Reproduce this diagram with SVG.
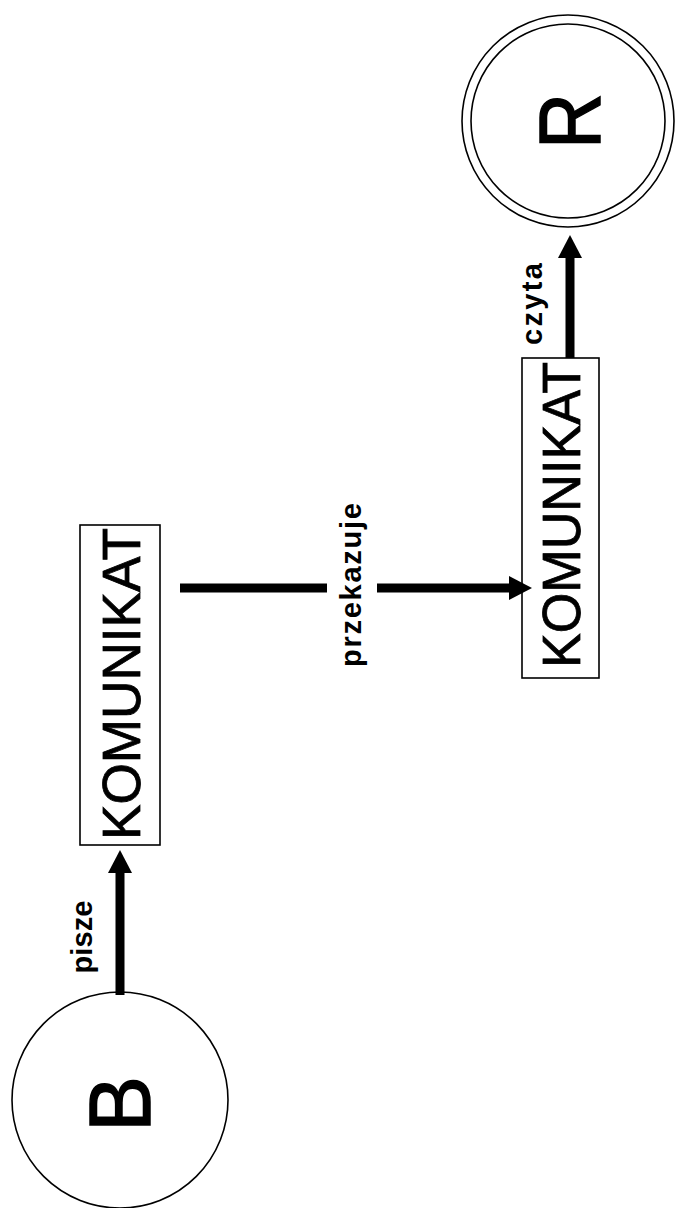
<svg xmlns="http://www.w3.org/2000/svg" width="676" height="1208" viewBox="0 0 676 1208">
<style>
.bg{fill:#fff}
.circ{fill:none;stroke:#000;stroke-width:1.6}
.box{fill:none;stroke:#000;stroke-width:1.6}
.big{font-family:"Liberation Sans",Arial,sans-serif;fill:#000}
.lbl{font-family:"Liberation Sans",Arial,sans-serif;font-weight:bold;font-size:29px;fill:#000}
.conn{stroke:#000;stroke-width:9;fill:none}
</style>
<defs>
<marker id="ah" markerUnits="userSpaceOnUse" markerWidth="23" markerHeight="24" refX="0" refY="12" orient="auto">
<path d="M0,0 L23,12 L0,24 z" fill="#000"/>
</marker>
</defs>
<rect class="bg" x="0" y="0" width="676" height="1208"/>
<g id="node-B">
<circle class="circ" cx="120" cy="1100" r="108"/>
<text class="big" font-size="88" text-anchor="middle" textLength="56" lengthAdjust="spacingAndGlyphs" stroke="#000" stroke-width="1.5" transform="translate(150,1104) rotate(-90)">B</text>
</g>
<g id="node-komunikat1">
<rect class="box" x="80" y="525" width="80" height="320"/>
<text class="big" font-size="53" text-anchor="middle" textLength="312" lengthAdjust="spacingAndGlyphs" stroke="#000" stroke-width="0.8" transform="translate(140,684) rotate(-90)">KOMUNIKAT</text>
</g>
<g id="node-komunikat2">
<rect class="box" x="522" y="358" width="77" height="320"/>
<text class="big" font-size="53" text-anchor="middle" textLength="306" lengthAdjust="spacingAndGlyphs" stroke="#000" stroke-width="0.8" transform="translate(580,515) rotate(-90)">KOMUNIKAT</text>
</g>
<g id="node-R">
<circle class="circ" cx="568" cy="121" r="106"/>
<circle class="circ" cx="568" cy="121" r="97"/>
<text class="big" font-size="88" text-anchor="middle" textLength="56" lengthAdjust="spacingAndGlyphs" stroke="#000" stroke-width="1.5" transform="translate(600,121) rotate(-90)">R</text>
</g>
<g id="connectors">
<line class="conn" x1="120" y1="995" x2="120" y2="873" marker-end="url(#ah)"/>
<line class="conn" x1="180" y1="588" x2="327" y2="588"/>
<line class="conn" x1="377" y1="588" x2="509" y2="588" marker-end="url(#ah)"/>
<line class="conn" x1="570" y1="358" x2="570" y2="258" marker-end="url(#ah)"/>
<text class="lbl" text-anchor="middle" textLength="73" lengthAdjust="spacing" transform="translate(92,937) rotate(-90)">pisze</text>
<text class="lbl" text-anchor="middle" textLength="164" lengthAdjust="spacing" transform="translate(361,585) rotate(-90)">przekazuje</text>
<text class="lbl" text-anchor="middle" textLength="82" lengthAdjust="spacing" transform="translate(542,304) rotate(-90)">czyta</text>
</g>
</svg>
